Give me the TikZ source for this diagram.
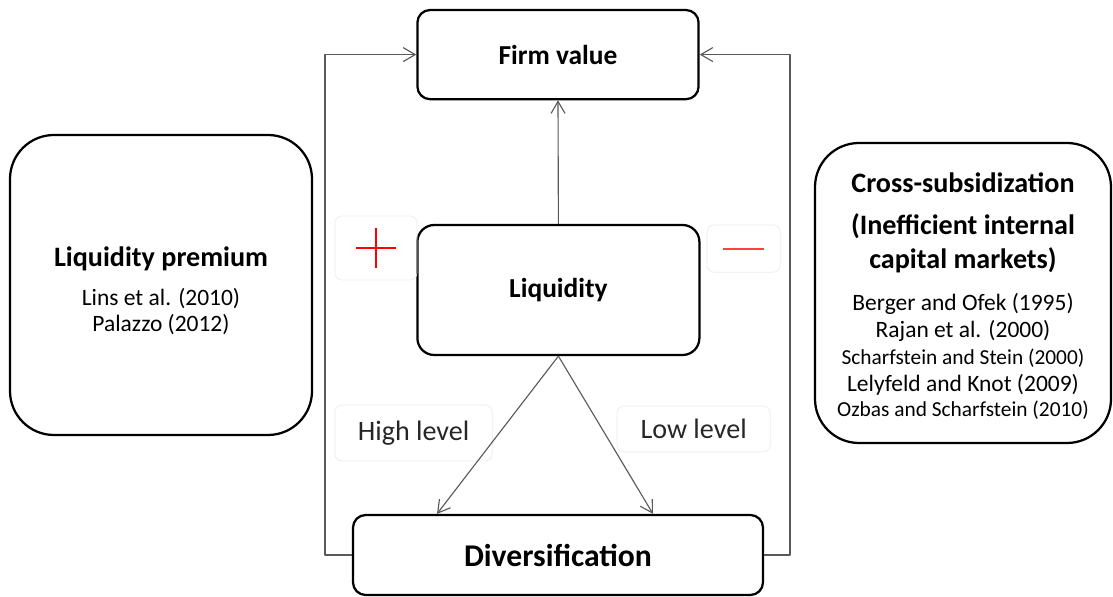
\documentclass[tikz,border=0pt]{standalone}
\usepackage{fontspec}
\setmainfont{Carlito}
\usetikzlibrary{arrows.meta}

\newcommand{\headfont}{\fontsize{20}{24.2}\selectfont\bfseries}
\newcommand{\reffont}{\fontsize{16.7}{18.1}\selectfont}
\newcommand{\smallref}{\fontsize{15.2}{18.1}\selectfont}

\begin{document}
\begin{tikzpicture}[>={Straight Barb[length=3mm,width=3.5mm]}, line join=round]

\tikzstyle{every node}=[align=center, inner sep=0pt, text=black]
\tikzstyle{mainbox}=[draw=black, line width=1.6pt, fill=white]
\tikzstyle{sidebox}=[mainbox, rounded corners=1.1cm, minimum width=7.5cm, minimum height=7.5cm]
\tikzstyle{faintbox}=[draw=black!8, line width=0.5pt, rounded corners=5pt]
\tikzstyle{link}=[draw=black!65, line width=0.8pt]

\useasboundingbox (0,0) rectangle (27.825,14.925);

% centre column
\draw (13.95,13.56) node[mainbox, rounded corners=9pt, minimum width=7.03cm, minimum height=2.23cm,
          font=\fontsize{19.5}{23}\selectfont\bfseries] (firm) {Firm value}
      (13.96,7.675) node[mainbox, rounded corners=12pt, minimum width=7.05cm, minimum height=3.25cm,
          font=\fontsize{19.5}{23}\selectfont\bfseries] (liq) {Liquidity}
      (13.95,1.05)  node[mainbox, rounded corners=9pt, minimum width=10.25cm, minimum height=2cm,
          font=\fontsize{22.5}{26}\selectfont\bfseries] (div) {Diversification};

% side boxes (the rule pushes the text a bit down)
\draw (4.025,7.8) node[sidebox, minimum width=7.55cm] (prem)
        {\headfont\rule{0pt}{22pt}Liquidity premium\\[11.4pt]
         \reffont Lins et al. (2010)\\[3pt]
         \reffont Palazzo (2012)}
      (24.075,7.6) node[sidebox, minimum width=7.4cm] (cross)
        {\headfont\rule{0pt}{19pt}Cross-subsidization\\[13.5pt]
         \headfont (Inefficient internal\\[5.7pt]
         \headfont capital markets)\\[13.2pt]
         \reffont Berger and Ofek (1995)\\[3pt]
         \reffont Rajan et al. (2000)\\[4.5pt]
         \smallref Scharfstein and Stein (2000)\\[3.5pt]
         \reffont Lelyfeld and Knot (2009)\\[3.5pt]
         \smallref Ozbas and Scharfstein (2010)};

% signs and levels
\draw (9.4,8.725)   node[faintbox, minimum width=2.05cm, minimum height=1.6cm] (plus) {}
      (18.59,8.71)  node[faintbox, minimum width=1.83cm, minimum height=1.18cm] (minus) {}
      (10.34,4.1)   node[faintbox, minimum width=3.93cm, minimum height=1.4cm,
          font=\fontsize{20}{24}\selectfont, text=black!85] (high) {High level}
      (17.34,4.2)   node[faintbox, minimum width=3.83cm, minimum height=1.15cm,
          font=\fontsize{20}{24}\selectfont, text=black!85] (low) {Low level};

\draw[red, line width=1.4pt] (plus.center) +(-0.5,0) -- +(0.5,0)
                             (plus.center) +(0,-0.49) -- +(0,0.49);
\draw[red!75, line width=1.4pt] (minus.center) +(-0.52,0) -- +(0.52,0);

% connectors
\coordinate (lx) at (8.125,0);
\coordinate (rx) at (19.75,0);
\draw[link, ->] (liq.north) -- (firm.south);
\draw[link, ->] (liq.south) -- ([xshift=-3.025cm]div.north);
\draw[link, ->] (liq.south) -- ([xshift=2.375cm]div.north);
\draw[link, ->] (div.west) -- (div.west -| lx) -- (firm.west -| lx) -- (firm.west);
\draw[link, ->] (div.east) -- (div.east -| rx) -- (firm.east -| rx) -- (firm.east);

\end{tikzpicture}
\end{document}
